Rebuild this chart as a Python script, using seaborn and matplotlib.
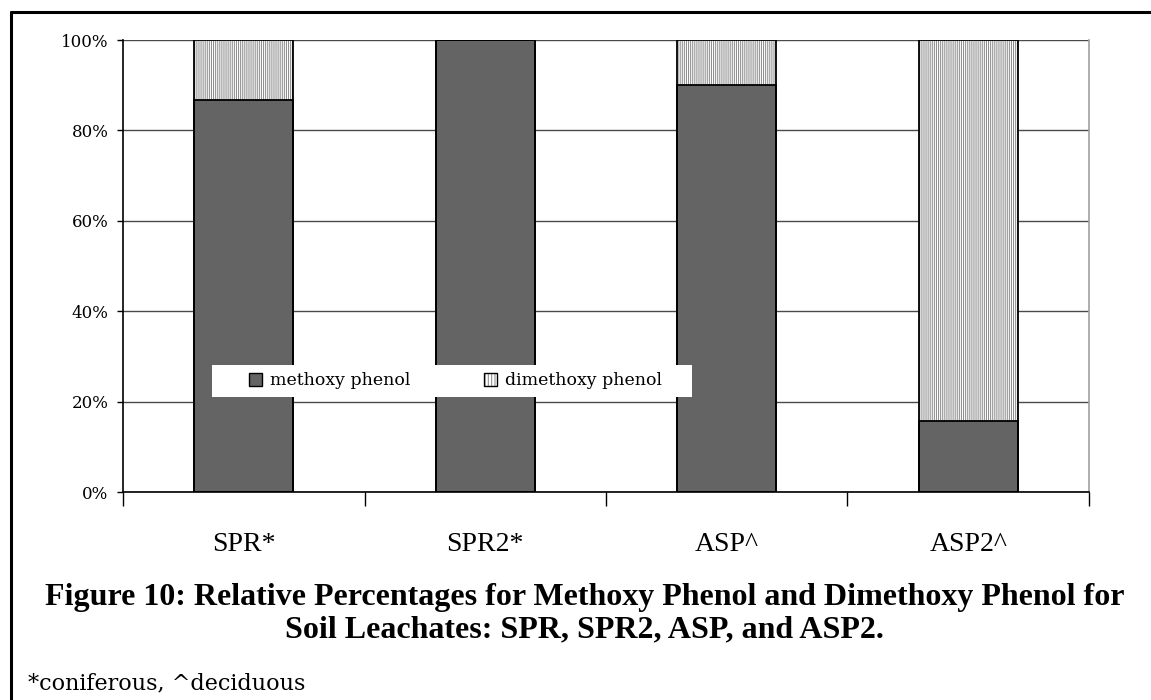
import matplotlib
matplotlib.use("Agg")
import matplotlib.pyplot as plt
from matplotlib.patches import Patch, Rectangle
from matplotlib.lines import Line2D
from matplotlib.legend_handler import HandlerTuple
import numpy as np
import pandas as pd
import seaborn as sns

# Relative percentages of the two phenols in each soil leachate
samples = ["SPR*", "SPR2*", "ASP^", "ASP2^"]
methoxy = [86.7, 100.0, 90.0, 15.8]
dimethoxy = [13.3, 0.0, 10.0, 84.2]
y_ticks = [0, 20, 40, 60, 80, 100]

sns.set_theme(style="white")
plt.rcParams["font.family"] = ["Liberation Serif", "DejaVu Serif"]
plt.rcParams["hatch.linewidth"] = 0.75
plt.rcParams["text.color"] = "black"
plt.rcParams["xtick.color"] = "black"
plt.rcParams["ytick.color"] = "black"

SOLID = "#646464"
STRIPE = "#8e8e8e"
HATCH = "||||||||"
BODY_FONT = ["DejaVu Serif", "Liberation Serif"]

df = pd.DataFrame({"sample": samples, "methoxy": methoxy, "dimethoxy": dimethoxy})
df["total"] = df["methoxy"] + df["dimethoxy"]

W, H = 1151, 700
fig = plt.figure(figsize=(W / 100, H / 100), dpi=100)
fig.patch.set_facecolor("white")
ax = fig.add_axes([0.1069, 0.2971, 0.8392, 0.6457])

# stacked bars: full-height striped layer, solid layer on top, then outlines
sns.barplot(data=df, x="sample", y="total", color="white", width=0.41,
            edgecolor=STRIPE, linewidth=0, hatch=HATCH, ax=ax,
            saturation=1, zorder=3)
sns.barplot(data=df, x="sample", y="methoxy", color=SOLID, width=0.41,
            edgecolor="black", linewidth=1.3, ax=ax, saturation=1, zorder=4)
sns.barplot(data=df, x="sample", y="total", color="black", width=0.41,
            fill=False, linewidth=1.3, ax=ax, saturation=1, zorder=5)

ax.set_xlim(-0.5, 3.5)
ax.set_ylim(0, 100)
ax.set_xlabel("")
ax.set_ylabel("")

ax.set_yticks(y_ticks)
ax.set_yticklabels([f"{v}%" for v in y_ticks], fontsize=12, family=BODY_FONT)
ax.yaxis.grid(True, color="#4a4a4a", linewidth=1.0, zorder=0)
ax.set_axisbelow(True)
ax.tick_params(axis="y", left=True, length=4.5, width=1, color="black", pad=6)

ax.set_xticks(range(len(samples)))
ax.set_xticklabels(samples, fontsize=20)
ax.tick_params(axis="x", which="major", length=0, pad=29)
ax.set_xticks(np.arange(-0.5, len(samples), 1.0), minor=True)
ax.tick_params(axis="x", which="minor", bottom=True, length=10, width=1, color="black")

for side in ["left", "bottom"]:
    ax.spines[side].set_color("black")
    ax.spines[side].set_linewidth(1.2)
ax.spines["top"].set_visible(False)
ax.spines["right"].set_color("#a0a0a0")
ax.spines["right"].set_linewidth(1.2)

# white panel behind the legend
fig.add_artist(Rectangle((212 / W, 1 - 397 / H), 480 / W, 32 / H,
                         transform=fig.transFigure, facecolor="white",
                         edgecolor="none", zorder=5))

solid_key = Patch(facecolor=SOLID, edgecolor="black", linewidth=1.0)
stripe_key = (Patch(facecolor="white", edgecolor=STRIPE, linewidth=0, hatch="|||||"),
              Patch(facecolor="none", edgecolor="black", linewidth=1.0))
leg = fig.legend([solid_key, stripe_key], ["methoxy phenol", "dimethoxy phenol"], ncol=2,
                 loc="center", bbox_to_anchor=(0.3958, 0.456), frameon=False,
                 prop={"family": BODY_FONT, "size": 12.5},
                 handlelength=0.75, handleheight=0.75,
                 columnspacing=4.2, handletextpad=0.5, borderpad=0.3,
                 borderaxespad=0,
                 handler_map={tuple: HandlerTuple(ndivide=1)})
leg.set_zorder(10)

fig.text(0.508, 0.1236,
         "Figure 10: Relative Percentages for Methoxy Phenol and Dimethoxy Phenol for\n"
         "Soil Leachates: SPR, SPR2, ASP, and ASP2.",
         ha="center", va="center", fontsize=23, fontweight="bold",
         linespacing=1.17)
fig.text(0.0243, 0.024, "*coniferous, ^deciduous", ha="left", va="center",
         fontsize=16, family=BODY_FONT)

# page frame on the left and top edges
fig.add_artist(Line2D([0.0095, 0.0095], [0.0, 0.983], transform=fig.transFigure,
                      color="black", linewidth=2.2))
fig.add_artist(Line2D([0.0095, 1.0], [0.983, 0.983], transform=fig.transFigure,
                      color="black", linewidth=2.2))

fig.savefig("out.png", dpi=100, facecolor="white")
